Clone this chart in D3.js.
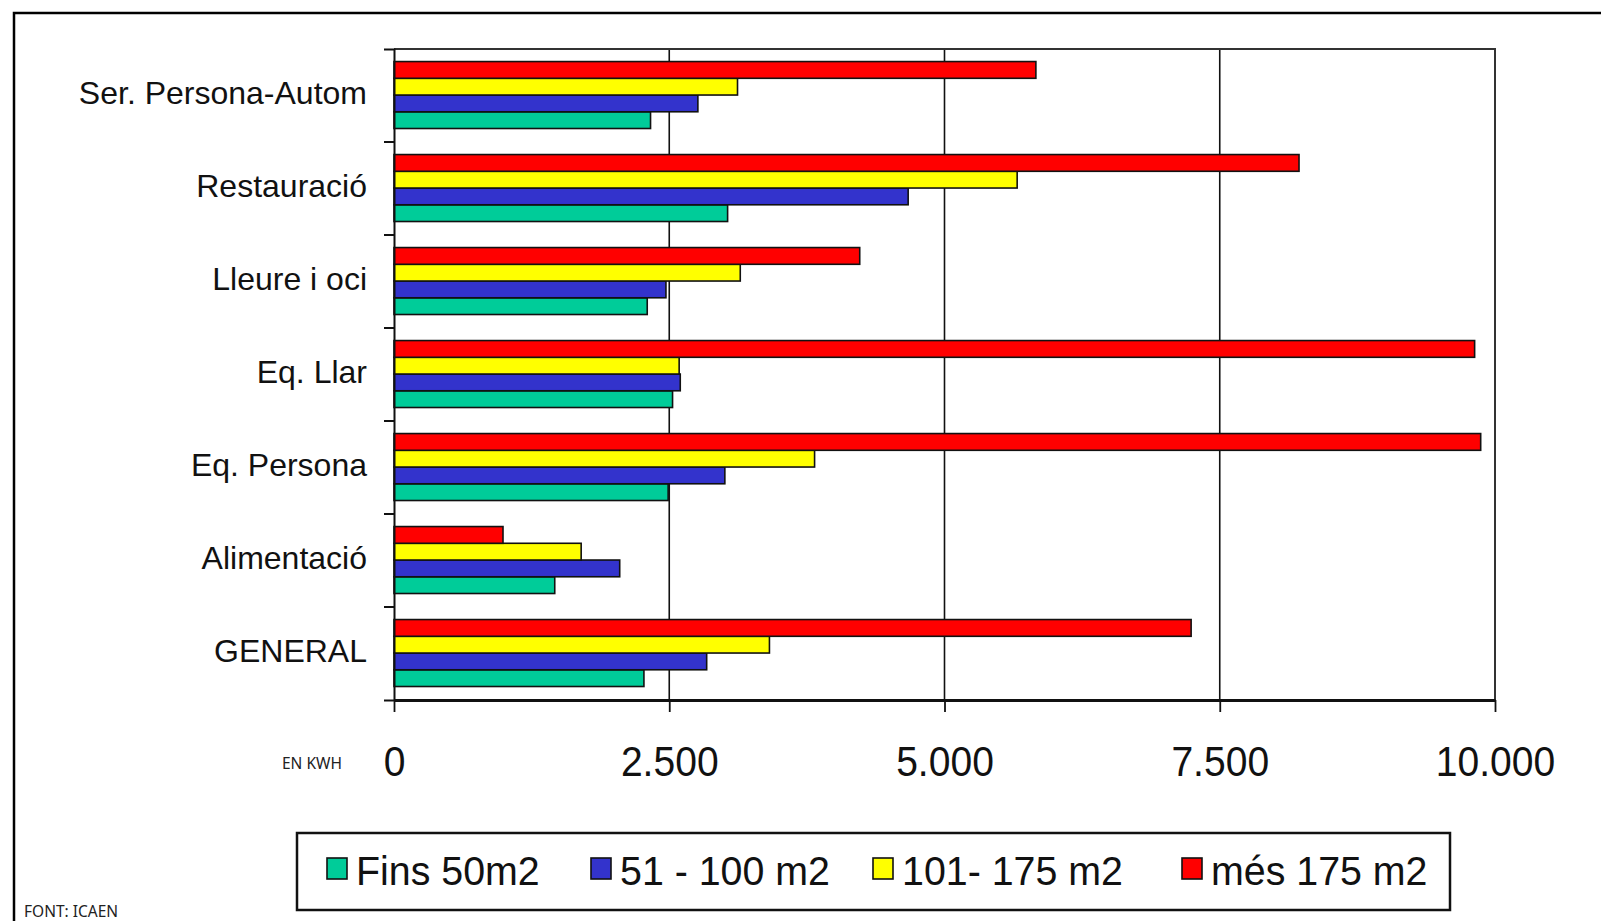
<!DOCTYPE html>
<html>
<head>
<meta charset="utf-8">
<script src="https://cdn.jsdelivr.net/npm/d3@7"></script>
<style>
  html, body { margin: 0; padding: 0; background: #fff; }
  svg { display: block; }
</style>
</head>
<body>
<svg id="chart" width="1601" height="921"></svg>
<script>
// ---------------- DATA ----------------
const categories = ["Ser. Persona-Autom", "Restauració", "Lleure i oci", "Eq. Llar", "Eq. Persona", "Alimentació", "GENERAL"];
const seriesNames = ["Fins 50m2", "51 - 100 m2", "101- 175 m2", "més 175 m2"];
const fins50   = [2330, 3030, 2300, 2530, 2490, 1460, 2270];
const m51_100  = [2760, 4670, 2470, 2600, 3005, 2050, 2840];
const m101_175 = [3120, 5660, 3145, 2590, 3820, 1700, 3410];
const mes175   = [5830, 8220, 4230, 9815, 9870,  990, 7240];
const seriesColors = ["#00CC99", "#3333CC", "#FFFF00", "#FF0000"];
const xTickValues = [0, 2500, 5000, 7500, 10000];
const unitLabel = "EN KWH";
const sourceLabel = "FONT: ICAEN";

const seriesValues = [fins50, m51_100, m101_175, mes175];
const series = seriesNames.map((name, i) => ({ name, color: seriesColors[i], values: seriesValues[i] }));

// ---------------- LAYOUT ----------------
const svg = d3.select("#chart");
const plot = { left: 394, right: 1495, top: 49, bottom: 700 };
const labelFont = "'Liberation Sans', Arial, sans-serif";

svg.append("rect").attr("width", 1601).attr("height", 921).attr("fill", "#fff");
// outer frame (open to the right / bottom edge of the picture)
svg.append("rect").attr("x", 14).attr("y", 13).attr("width", 1700).attr("height", 1000)
  .attr("fill", "none").attr("stroke", "#000").attr("stroke-width", 2.5);

const x = d3.scaleLinear().domain([0, 10000]).range([plot.left, plot.right]);
const y = d3.scaleBand().domain(categories).range([plot.top, plot.bottom]).padding(0);
// top-to-bottom order inside each band: més 175, 101-175, 51-100, Fins 50
const inner = d3.scaleBand().domain(series.map(s => s.name).slice().reverse())
  .range([y.bandwidth() * 0.135, y.bandwidth() * 0.855]).padding(0);

// gridlines
svg.append("g").selectAll("line").data(xTickValues.filter(v => v > 0 && v < 10000)).join("line")
  .attr("x1", d => x(d)).attr("x2", d => x(d))
  .attr("y1", plot.top).attr("y2", plot.bottom)
  .attr("stroke", "#111").attr("stroke-width", 1.6);

// plot border (top & right)
svg.append("path")
  .attr("d", `M${plot.left},${plot.top}H${plot.right}V${plot.bottom}`)
  .attr("fill", "none").attr("stroke", "#333").attr("stroke-width", 2);

// bars
const rows = [];
categories.forEach((c, ci) => series.forEach(s => rows.push({ cat: c, name: s.name, color: s.color, value: s.values[ci] })));
svg.append("g").selectAll("rect").data(rows).join("rect")
  .attr("x", x(0))
  .attr("y", d => y(d.cat) + inner(d.name))
  .attr("width", d => x(d.value) - x(0))
  .attr("height", inner.bandwidth())
  .attr("fill", d => d.color)
  .attr("stroke", "#111").attr("stroke-width", 1.6);

// x axis
const fmt = d3.formatLocale({ decimal: ",", thousands: ".", grouping: [3], currency: ["", "€"] }).format(",d");
const xAxis = svg.append("g").attr("transform", `translate(0,${plot.bottom})`)
  .call(d3.axisBottom(x).tickValues(xTickValues).tickFormat(fmt).tickSize(12).tickSizeOuter(0).tickPadding(34));
xAxis.select(".domain").attr("stroke", "#111").attr("stroke-width", 2.8);
xAxis.selectAll(".tick line").attr("stroke", "#111").attr("stroke-width", 1.8);
xAxis.selectAll(".tick text")
  .attr("font-family", labelFont).attr("font-size", 42).attr("fill", "#111")
  .attr("transform", "scale(0.93,1)");

// y axis (labels centered in bands, ticks on band boundaries)
const yAxis = svg.append("g").attr("transform", `translate(${plot.left},0)`)
  .call(d3.axisLeft(y).tickSize(0).tickSizeOuter(10).tickPadding(27));
yAxis.select(".domain").attr("stroke", "#111").attr("stroke-width", 2);
yAxis.selectAll(".tick text")
  .attr("font-family", labelFont).attr("font-size", 32).attr("fill", "#111").attr("dy", "0.25em");
yAxis.append("g").selectAll("line").data(categories.slice(1)).join("line")
  .attr("x1", -10).attr("x2", 0)
  .attr("y1", d => y(d)).attr("y2", d => y(d))
  .attr("stroke", "#111").attr("stroke-width", 2);

// unit and source labels
svg.append("text").attr("x", 282).attr("y", 769).text(unitLabel)
  .attr("font-family", "'Noto Sans', 'Open Sans', sans-serif").attr("font-size", 15.5).attr("fill", "#222");
svg.append("text").attr("x", 24).attr("y", 917).text(sourceLabel)
  .attr("font-family", "'Noto Sans', 'Open Sans', sans-serif").attr("font-size", 15.5).attr("fill", "#222");

// legend
const legend = { x: 297, y: 833, w: 1153, h: 77 };
svg.append("rect").attr("x", legend.x).attr("y", legend.y).attr("width", legend.w).attr("height", legend.h)
  .attr("fill", "#fff").attr("stroke", "#111").attr("stroke-width", 2.5);
const legendItemX = [327, 591, 873, 1182];
const li = svg.append("g").selectAll("g").data(series).join("g")
  .attr("transform", (d, i) => `translate(${legendItemX[i]},0)`);
li.append("rect").attr("x", 0).attr("y", 858).attr("width", 20).attr("height", 21)
  .attr("fill", d => d.color).attr("stroke", "#111").attr("stroke-width", 1.6);
li.append("text").attr("transform", "translate(29,885) scale(0.96,1)")
  .text(d => d.name)
  .attr("font-family", labelFont).attr("font-size", 41).attr("fill", "#111");
</script>
</body>
</html>
